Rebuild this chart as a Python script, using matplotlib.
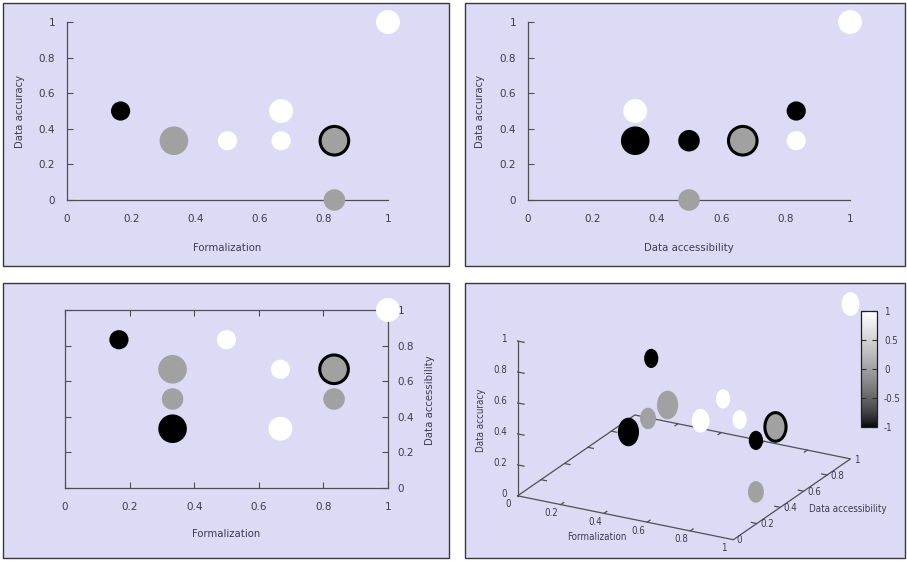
import numpy as np
import matplotlib
matplotlib.use('Agg')
import matplotlib.pyplot as plt
from matplotlib.colors import ListedColormap, Normalize
from matplotlib.patches import Rectangle
from matplotlib.path import Path
from matplotlib.transforms import Affine2D
from mpl_toolkits.mplot3d import proj3d

# --- data -------------------------------------------------------------
# top left: Formalization vs Data accuracy
form_1 = [1, 0.167, 0.333, 0.5, 0.667, 0.667, 0.833, 0.833]
accu_1 = [1, 0.5, 0.333, 0.333, 0.5, 0.333, 0.333, 0]
corr_1 = [1, -1, 0, 1, 1, 1, 0, 0]
weight_1 = [2, 1, 3, 1, 2, 1, 3, 1.5]
marked_1 = [0, 0, 0, 0, 0, 0, 1, 0]

# top right: Data accessibility vs Data accuracy
access_2 = [1, 0.333, 0.333, 0.5, 0.667, 0.833, 0.833, 0.5]
accu_2 = [1, 0.5, 0.333, 0.333, 0.333, 0.5, 0.333, 0]
corr_2 = [1, 1, -1, -1, 0, -1, 1, 0]
weight_2 = [2, 2, 3, 1.5, 3, 1, 1, 1.5]
marked_2 = [0, 0, 0, 0, 1, 0, 0, 0]

# bottom left: Formalization vs Data accessibility
form_3 = [1, 0.167, 0.5, 0.333, 0.667, 0.833, 0.333, 0.833, 0.333, 0.667]
access_3 = [1, 0.833, 0.833, 0.667, 0.667, 0.667, 0.5, 0.5, 0.333, 0.333]
corr_3 = [1, -1, 1, 0, 1, 0, 0, 0, -1, 1]
weight_3 = [2, 1, 1, 3, 1, 3, 1.5, 1.5, 3, 2]
marked_3 = [0, 0, 0, 0, 0, 1, 0, 0, 0, 0]

# bottom right: all three
form_4 = [1, 0.167, 0.5, 0.333, 0.667, 0.833, 0.333, 0.833, 0.833, 0.333, 0.667]
access_4 = [1, 0.833, 0.833, 0.667, 0.667, 0.667, 0.5, 0.5, 0.5, 0.333, 0.333]
accu_4 = [1, 0.5, 0.333, 0.333, 0.333, 0.333, 0.333, 0, 0.333, 0.333, 0.5]
corr_4 = [1, -1, 1, 0, 1, 0, 0, 0, -1, -1, 1]
weight_4 = [2, 1, 1, 3, 1, 3, 1.5, 1.5, 1, 3, 2]
marked_4 = [0, 0, 0, 0, 0, 1, 0, 0, 0, 0, 0]

ticks = [0, 0.2, 0.4, 0.6, 0.8, 1]
tick_labels = ['0', '0.2', '0.4', '0.6', '0.8', '1']
cb_ticks = [-1, -0.5, 0, 0.5, 1]
cb_labels = ['-1', '-0.5', '0', '0.5', '1']

# --- style ------------------------------------------------------------
W, H = 907, 561
BG = '#dddaf5'
TXT = '#3c3c4c'
AX = '#505050'
g = np.linspace(0, 1, 256) ** (1 / 1.5)   # gnuplot gray palette, gamma 1.5
cmap = ListedColormap(np.column_stack([g, g, g]))
norm = Normalize(-1, 1)


def px(x0, y0, x1, y1):
    return [x0 / W, 1 - y1 / H, (x1 - x0) / W, (y1 - y0) / H]


def sizes(w):
    d = (14.5 + 4.7 * np.asarray(w)) * 0.72
    return d ** 2


def edges(m):
    ec = ['black' if k else 'none' for k in m]
    lw = [2.2 if k else 0 for k in m]
    return ec, lw


fig = plt.figure(figsize=(W / 100, H / 100), dpi=100, facecolor='white')
for box in [(3, 3, 449, 266), (465, 3, 905, 266), (3, 283, 449, 558), (465, 283, 905, 558)]:
    r = px(*box)
    fig.patches.append(Rectangle((r[0], r[1]), r[2], r[3], transform=fig.transFigure,
                                 facecolor=BG, edgecolor='#3a3a3a', linewidth=1.0, zorder=-5))


def setup_2d(ax, xlabel, ylabel):
    ax.set_xlim(0, 1)
    ax.set_ylim(0, 1)
    ax.patch.set_visible(False)
    ax.set_xticks(ticks, tick_labels)
    ax.set_yticks(ticks, tick_labels)
    for s in ax.spines.values():
        s.set_color(AX)
        s.set_linewidth(0.9)
    ax.tick_params(direction='in', colors=AX, labelcolor=TXT, labelsize=7.5, width=0.8)
    ax.set_xlabel(xlabel, fontsize=7.3, color=TXT)
    ax.set_ylabel(ylabel, fontsize=7.3, color=TXT)
    ax.xaxis.label.set_va('center')
    ax.yaxis.label.set_va('center')


def bubbles(ax, x, y, c, w, m):
    ec, lw = edges(m)
    ax.scatter(x, y, s=sizes(w), c=c, cmap=cmap, norm=norm, edgecolors=ec,
               linewidths=lw, clip_on=False, zorder=5)


# top left
ax1 = fig.add_axes(px(67, 22, 388, 200))
setup_2d(ax1, 'Formalization', 'Data accuracy')
ax1.spines[['top', 'right']].set_visible(False)
ax1.tick_params(axis='x', length=0, pad=10)
ax1.tick_params(axis='y', length=4, pad=8.5)
ax1.xaxis.set_label_coords(0.5, -0.27)
ax1.yaxis.set_label_coords(-0.146, 0.5)
bubbles(ax1, form_1, accu_1, corr_1, weight_1, marked_1)

# top right
ax2 = fig.add_axes(px(528, 22, 850, 200))
setup_2d(ax2, 'Data accessibility', 'Data accuracy')
ax2.spines[['top', 'right']].set_visible(False)
ax2.tick_params(axis='x', length=0, pad=10)
ax2.tick_params(axis='y', length=4, pad=8.5)
ax2.xaxis.set_label_coords(0.5, -0.27)
ax2.yaxis.set_label_coords(-0.149, 0.5)
bubbles(ax2, access_2, accu_2, corr_2, weight_2, marked_2)

# bottom left
ax3 = fig.add_axes(px(65, 310, 388, 488))
setup_2d(ax3, 'Formalization', 'Data accessibility')
ax3.tick_params(axis='both', length=4.5, top=True, right=True, left=True, bottom=True,
                labelleft=False, labelright=True)
ax3.tick_params(axis='x', pad=10)
ax3.tick_params(axis='y', pad=7)
ax3.yaxis.set_label_position('right')
ax3.yaxis.label.set_rotation(90)
ax3.xaxis.set_label_coords(0.5, -0.258)
ax3.yaxis.set_label_coords(1.115, 0.494)
bubbles(ax3, form_3, access_3, corr_3, weight_3, marked_3)

# bottom right: 3D view
L = 374
cx, cy = 679, 405
ax4 = fig.add_axes(px(cx - L / 2, cy - L / 2, cx + L / 2, cy + L / 2), projection='3d',
                   proj_type='ortho', computed_zorder=False)
ax4.set_axis_off()
ax4.patch.set_visible(False)
ax4.set_box_aspect((1, 1, 0.68))
ax4.view_init(elev=22, azim=-61.5)
ax4.set_xlim(0, 1, view_margin=0)
ax4.set_ylim(0, 1, view_margin=0)
ax4.set_zlim(0, 1, view_margin=0)

lk = dict(color=AX, linewidth=0.9, zorder=1)
ax4.plot([0, 1, 1, 0, 0], [0, 0, 1, 1, 0], [0, 0, 0, 0, 0], **lk)
ax4.plot([0, 0], [0, 0], [0, 1], **lk)
t = 0.025
for v in ticks[1:-1]:
    ax4.plot([v, v], [0, t], [0, 0], **lk)
    ax4.plot([v, v], [1, 1 - t], [0, 0], **lk)
    ax4.plot([0, t], [v, v], [0, 0], **lk)
    ax4.plot([1, 1 - t], [v, v], [0, 0], **lk)
for v in ticks[1:]:
    ax4.plot([0, 0.03], [0, 0], [v, v], **lk)

# texts: project the 3D anchor once, then place a plain text
M = ax4.get_proj()
tk = dict(color=TXT, fontsize=7, fontstretch='condensed')


def label3d(x, y, z, s, **kw):
    u, v, _ = proj3d.proj_transform(x, y, z, M)
    ax4.text2D(u, v, s, transform=ax4.transData, **tk, **kw)


for v, s in zip(ticks, tick_labels):
    label3d(v - 0.015, -0.05, 0, s, ha='center', va='top')
    label3d(1.015, v, 0, s, ha='left', va='center')
    label3d(-0.05, 0, v, s, ha='right', va='center')
label3d(0.5, -0.24, 0, 'Formalization', ha='center', va='center')
label3d(1.25, 0.52, 0, 'Data accessibility', ha='center', va='center')
label3d(-0.17, 0, 0.44, 'Data accuracy', ha='center', va='center', rotation=90)

ellipse = Path.unit_circle().transformed(Affine2D().scale(0.74, 1))
ec4, lw4 = edges(marked_4)
sc = ax4.scatter(form_4, access_4, accu_4, s=sizes(weight_4), c=corr_4, cmap=cmap, norm=norm,
                 marker=ellipse, edgecolors=ec4, linewidths=lw4, depthshade=False, zorder=5)

cax = fig.add_axes(px(861, 311, 877, 427))
cb = fig.colorbar(sc, cax=cax, ticks=cb_ticks)
cb.set_ticklabels(cb_labels)
cb.outline.set_linewidth(0.9)
cb.outline.set_edgecolor('#202020')
cax.tick_params(direction='in', length=3.5, left=True, right=True, colors='#303030',
                labelcolor=TXT, labelsize=7, pad=5)
for lab in cax.get_yticklabels():
    lab.set_fontstretch('condensed')

fig.savefig('out.png', dpi=100, facecolor='white')
